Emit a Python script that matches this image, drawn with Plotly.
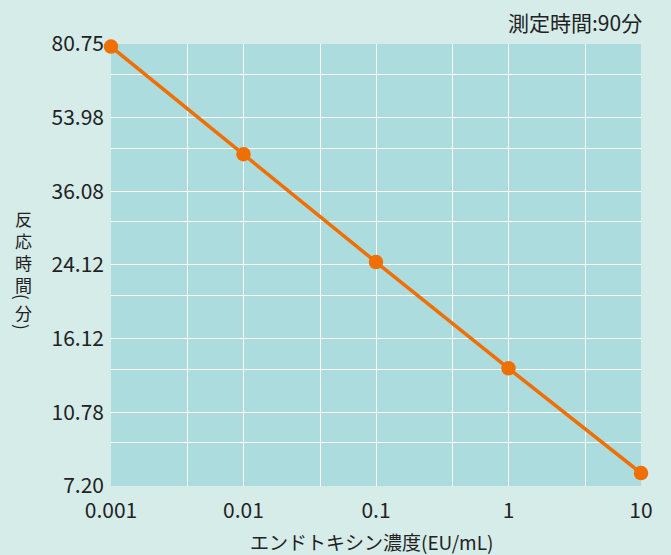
import plotly.graph_objects as go

# Data
concentration = [0.001, 0.01, 0.1, 1, 10]          # EU/mL
reaction_time = [79.6, 44.2, 24.5, 13.7, 7.73]       # minutes

x_ticks = [0.001, 0.01, 0.1, 1, 10]
x_ticktext = ["0.001", "0.01", "0.1", "1", "10"]
x_minor = [0.00378, 0.0378, 0.378, 3.78]

y_ticks = [7.20, 10.78, 16.12, 24.12, 36.08, 53.98, 80.75]
y_ticktext = ["7.20", "10.78", "16.12", "24.12", "36.08", "53.98", "80.75"]
y_minor = [9.12, 13.65, 20.41, 30.54, 45.69, 68.36]

# vertical y-axis title (vertical writing): stacked glyphs, parentheses rotated
y_title_parts = ["反<br>応<br>時<br>間", "(", "分", ")"]
y_title_angle = [0, 90, 0, 90]
y_title_pix = [251, 297, 312, 327]

FONT = "Noto Sans CJK JP"
ORANGE = "#ef6f00"
TXT = "#222222"

W, H = 671, 555
L, R, T, B = 111, 30, 44, 69
PH = H - T - B

fig = go.Figure()
fig.add_trace(go.Scatter(
    x=concentration, y=reaction_time, mode="lines+markers",
    line=dict(color=ORANGE, width=3.5),
    marker=dict(color=ORANGE, size=14.5),
    cliponaxis=False, showlegend=False,
))

annotations = [
    dict(text="測定時間:90分", xref="paper", yref="paper", x=1.0, y=(H - B - 22) / PH,
         xanchor="right", yanchor="middle", xshift=3, showarrow=False,
         font=dict(size=21, family=FONT, color=TXT)),
    dict(text="エンドトキシン濃度(EU/mL)", xref="paper", yref="paper",
         x=(371 - L) / (W - L - R), y=(H - B - 541) / PH,
         xanchor="center", yanchor="middle", showarrow=False,
         font=dict(size=19, family=FONT, color=TXT)),
]
for txt, ang, py in zip(y_title_parts, y_title_angle, y_title_pix):
    annotations.append(dict(
        text=txt, textangle=ang, xref="paper", yref="paper", x=0, y=(H - B - py) / PH,
        xanchor="center", yanchor="middle", xshift=23 - L, showarrow=False,
        borderpad=0, align="center",
        font=dict(size=17, family=FONT, color=TXT)))

fig.update_layout(
    width=W, height=H,
    margin=dict(l=L, r=R, t=T, b=B),
    paper_bgcolor="#d5ece9",
    plot_bgcolor="#acdcde",
    font=dict(family=FONT, color=TXT, size=21),
    xaxis=dict(
        type="log", range=[-3, 1],
        tickmode="array", tickvals=x_ticks, ticktext=x_ticktext,
        showgrid=True, gridcolor="white", gridwidth=1.2,
        ticks="", ticklen=0, showline=False, zeroline=False,
        tickfont=dict(size=21, family=FONT, color=TXT),
        ticklabelstandoff=10,
        minor=dict(tickmode="array", tickvals=x_minor, showgrid=True,
                   gridcolor="white", gridwidth=1.2, ticks=""),
    ),
    yaxis=dict(
        type="log", range=[0.857332, 1.907142],
        tickmode="array", tickvals=y_ticks, ticktext=y_ticktext,
        showgrid=True, gridcolor="white", gridwidth=1.2,
        ticks="", ticklen=0, showline=False, zeroline=False,
        tickfont=dict(size=21, family=FONT, color=TXT),
        ticklabelstandoff=6,
        minor=dict(tickmode="array", tickvals=y_minor, showgrid=True,
                   gridcolor="white", gridwidth=1.2, ticks=""),
    ),
    annotations=annotations,
)

fig.write_html("out.html", config={"displayModeBar": False},
               post_script="document.body.style.margin='0';")
